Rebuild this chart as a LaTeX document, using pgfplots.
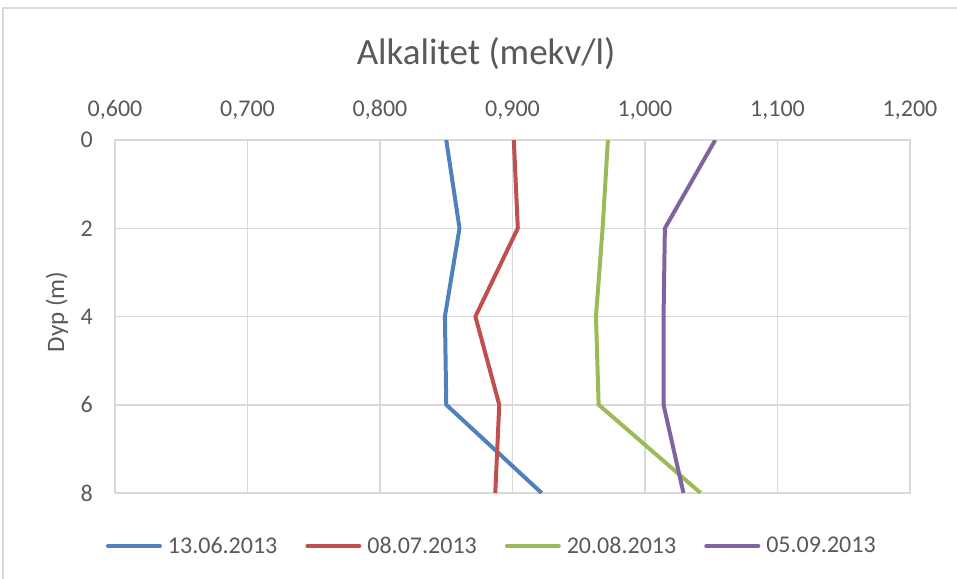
\documentclass[border=0pt]{standalone}
\usepackage{fontspec}
\setmainfont{Carlito}
\usepackage{pgfplots}
\pgfplotsset{compat=1.18}
\definecolor{c1}{HTML}{4F81BD}
\definecolor{c2}{HTML}{C0504D}
\definecolor{c3}{HTML}{9BBB59}
\definecolor{c4}{HTML}{8064A2}
\definecolor{txt}{HTML}{595959}
\definecolor{gridc}{HTML}{D9D9D9}
\begin{document}
\begin{tikzpicture}
\useasboundingbox (0pt,0pt) rectangle (957pt,578pt);
\draw[gridc, line width=1.5pt] (3pt,-20pt) -- (3pt,570pt) -- (980pt,570pt);
\begin{axis}[
  at={(115pt,85pt)}, anchor=south west,
  scale only axis, width=795pt, height=353pt,
  xmin=0.6, xmax=1.2, ymin=0, ymax=8,
  y dir=reverse,
  xtick={0.6,0.7,...,1.2}, ytick={0,2,4,6,8},
  xticklabel pos=right,
  major tick length=0pt,
  grid=major,
  major grid style={draw=gridc, line width=1.5pt},
  axis line style={draw=gridc, line width=1.5pt},
  every tick label/.append style={font=\fontsize{24}{28}\selectfont, text=txt, inner sep=0pt},
  xticklabel style={anchor=base, yshift=24pt},
  yticklabel style={anchor=east, xshift=-22pt},
  /pgf/number format/.cd, use comma, fixed, fixed zerofill, precision=3, assume math mode=true,
  /pgfplots/.cd,
  yticklabel={\pgfmathprintnumber[fixed, precision=0, fixed zerofill=false]{\tick}},
  title={Alkalitet (mekv/l)},
  title style={at={(rel axis cs:0.4667,1.198)}, anchor=base, font=\fontsize{37}{42}\selectfont, text=txt},
  ylabel={Dyp (m)},
  ylabel style={at={(rel axis cs:-0.073,0.513)}, anchor=center, font=\fontsize{25}{29}\selectfont, text=txt},
  legend columns=4,
  legend style={at={(rel axis cs:0.474,-0.150)}, anchor=center, draw=none, fill=none,
    font=\fontsize{24}{28}\selectfont, text=txt, inner sep=0pt,
    /tikz/every odd column/.append style={column sep=4pt},
    /tikz/every even column/.append style={column sep=26pt}},
  legend image code/.code={\draw[#1, line width=4pt, line cap=round] (0pt,0pt) -- (52pt,0pt);},
  every axis plot/.append style={line width=4pt, line join=round},
]
\addplot[c1] table {
x y
0.850 0
0.860 2
0.849 4
0.850 6
0.922 8
};
\addlegendentry{13.06.2013}
\addplot[c2] table {
x y
0.901 0
0.904 2
0.872 4
0.890 6
0.887 8
};
\addlegendentry{08.07.2013}
\addplot[c3] table {
x y
0.972 0
0.968 2
0.963 4
0.965 6
1.042 8
};
\addlegendentry{20.08.2013}
\addplot[c4] table {
x y
1.053 0
1.015 2
1.014 4
1.014 6
1.029 8
};
\addlegendentry{05.09.2013}
\end{axis}
\end{tikzpicture}
\end{document}
